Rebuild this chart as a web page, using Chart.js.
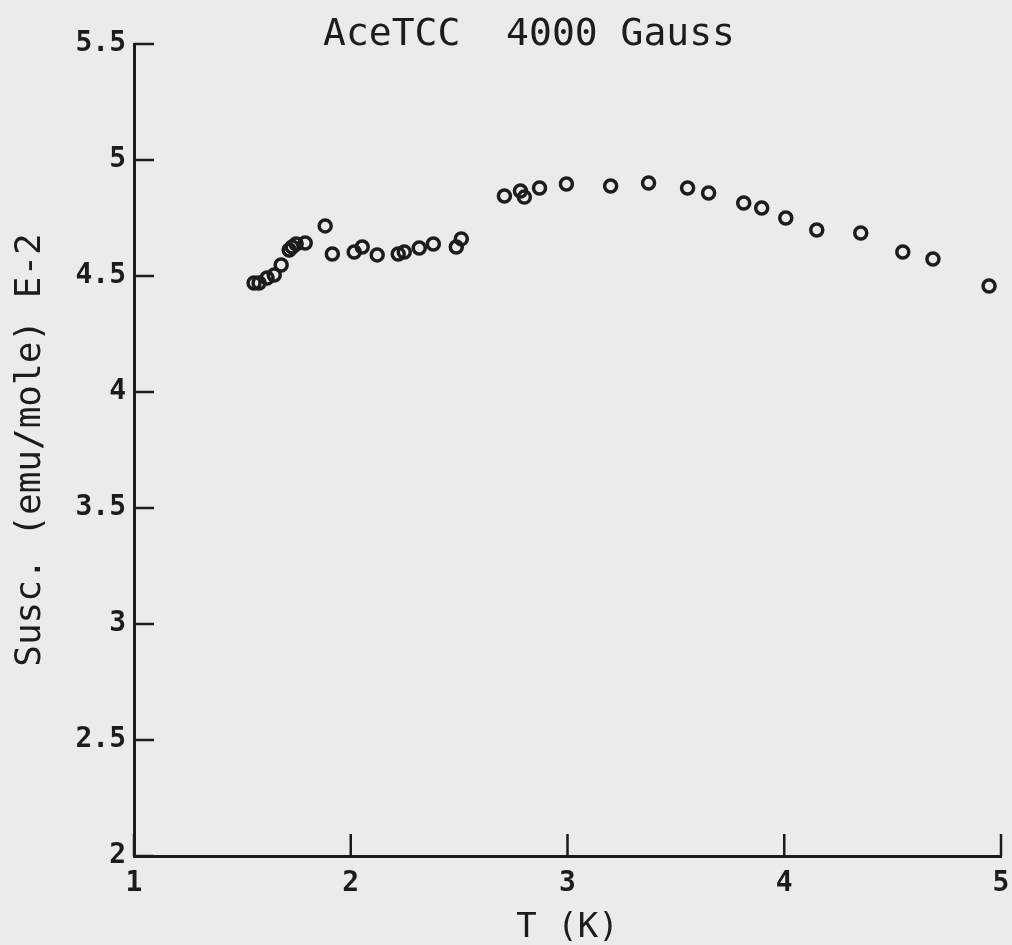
<!DOCTYPE html>
<html>
<head>
<meta charset="utf-8">
<script src="https://cdn.jsdelivr.net/npm/chart.js@4/dist/chart.umd.min.js"></script>
<style>
  html, body { margin: 0; padding: 0; background: #ebebea; }
  #wrap { width: 1012px; height: 945px; }
</style>
</head>
<body>
<div id="wrap"><canvas id="chart" width="1012" height="945"></canvas></div>
<script>
// values
const tempK = [
  1.554, 1.577, 1.614, 1.647, 1.679, 1.716, 1.730, 1.748, 1.790, 1.882,
  1.915, 2.016, 2.053, 2.122, 2.219, 2.247, 2.316, 2.381, 2.487, 2.510,
  2.709, 2.783, 2.801, 2.871, 2.995, 3.199, 3.374, 3.554, 3.651, 3.813,
  3.896, 4.007, 4.150, 4.353, 4.547, 4.686, 4.945
];
const susc = [
  4.470, 4.470, 4.491, 4.504, 4.547, 4.612, 4.625, 4.638, 4.642, 4.716,
  4.595, 4.603, 4.625, 4.591, 4.595, 4.603, 4.621, 4.638, 4.625, 4.660,
  4.845, 4.866, 4.840, 4.879, 4.897, 4.888, 4.901, 4.879, 4.858, 4.815,
  4.793, 4.750, 4.698, 4.685, 4.603, 4.573, 4.457
];
const xTicks = [1, 2, 3, 4, 5];
const yTicks = [2, 2.5, 3, 3.5, 4, 4.5, 5, 5.5];

const ink = "#1c1c1c";
const mono = "'DejaVu Sans Mono', monospace";

// plotter style: ticks point into the plot, title drawn by hand
const plotterDecor = {
  id: "plotterDecor",
  afterDraw(chart) {
    const ctx = chart.ctx;
    const { x, y } = chart.scales;
    const area = chart.chartArea;
    ctx.save();
    ctx.strokeStyle = ink;
    ctx.lineWidth = 2.5;
    ctx.beginPath();
    xTicks.forEach(v => {
      const px = x.getPixelForValue(v);
      ctx.moveTo(px, area.bottom);
      ctx.lineTo(px, area.bottom - 22);
    });
    yTicks.forEach(v => {
      const py = y.getPixelForValue(v);
      ctx.moveTo(area.left, py);
      ctx.lineTo(area.left + 20, py);
    });
    ctx.stroke();

    ctx.fillStyle = ink;
    ctx.font = "38px " + mono;
    ctx.textAlign = "center";
    ctx.textBaseline = "alphabetic";
    ctx.fillText("AceTCC  4000 Gauss", 529, 45);
    ctx.restore();
  }
};

new Chart(document.getElementById("chart"), {
  type: "scatter",
  data: {
    datasets: [{
      data: tempK.map((t, i) => ({ x: t, y: susc[i] })),
      pointStyle: "circle",
      pointRadius: 6,
      pointBorderWidth: 3.5,
      pointBackgroundColor: "rgba(0,0,0,0)",
      pointBorderColor: ink,
      showLine: false
    }]
  },
  options: {
    responsive: false,
    animation: false,
    layout: { padding: { top: 44, right: 11, left: 0, bottom: 0 } },
    plugins: {
      legend: { display: false },
      tooltip: { enabled: false }
    },
    scales: {
      x: {
        type: "linear",
        min: 1,
        max: 5,
        afterFit: s => { s.height = 89; s.paddingRight = 0; s.paddingLeft = 0; },
        afterBuildTicks: s => { s.ticks = xTicks.map(v => ({ value: v })); },
        grid: { display: false, drawTicks: false },
        border: { display: true, color: ink, width: 3 },
        ticks: {
          color: ink,
          padding: 11,
          font: { family: mono, size: 28, weight: "bold" },
          callback: v => String(v)
        },
        title: {
          display: true,
          text: "T (K)",
          color: ink,
          padding: { top: 0, bottom: -4 },
          font: { family: mono, size: 34 }
        }
      },
      y: {
        type: "linear",
        min: 2,
        max: 5.5,
        afterFit: s => { s.width = 134; s.paddingTop = 0; s.paddingBottom = 0; },
        afterBuildTicks: s => { s.ticks = yTicks.map(v => ({ value: v })); },
        grid: { display: false, drawTicks: false },
        border: { display: true, color: ink, width: 3 },
        ticks: {
          color: ink,
          padding: 8,
          font: { family: mono, size: 28, weight: "bold" },
          callback: v => String(v)
        },
        title: {
          display: true,
          text: "Susc. (emu/mole) E-2",
          color: ink,
          padding: { top: 9, bottom: 0 },
          font: { family: mono, size: 36 }
        }
      }
    }
  },
  plugins: [plotterDecor]
});
</script>
</body>
</html>
